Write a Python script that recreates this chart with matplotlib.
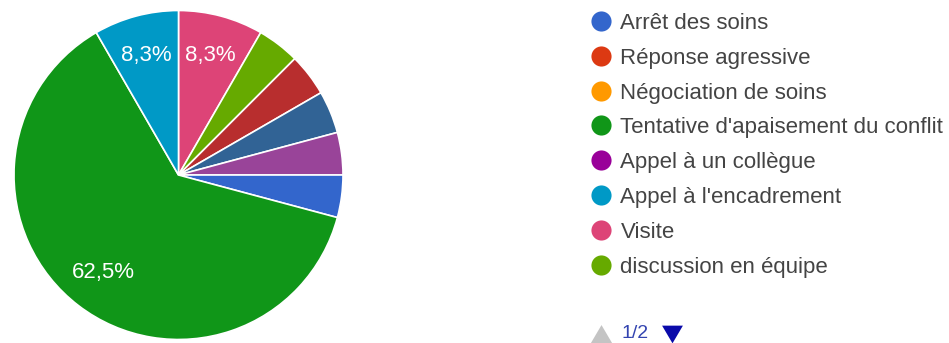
import matplotlib.pyplot as plt

plt.rcParams['font.family'] = ['Liberation Sans', 'DejaVu Sans']

# legend entries (page 1 of 2) and their colours
legend_labels = ['Arrêt des soins', 'Réponse agressive', 'Négociation de soins',
                 "Tentative d'apaisement du conflit", 'Appel à un collègue',
                 "Appel à l'encadrement", 'Visite', 'discussion en équipe']
legend_colors = ['#3366cc', '#dc3912', '#ff9900', '#109618',
                 '#990099', '#0099c6', '#dd4477', '#66aa00']

# pie slices, clockwise from 12 o'clock (counts out of 24 answers)
slice_counts = [2, 1, 1, 1, 1, 1, 15, 2]
slice_colors = ['#dd4477', '#66aa00', '#b82e2e', '#316395',
                '#994499', '#3366cc', '#109618', '#0099c6']

W, H = 949, 343
fig = plt.figure(figsize=(W / 100, H / 100), dpi=100)

# pie: centre at (178.5, 175) px, radius 164.5 px
cx, cy, r = 178.5, 175, 164.5
ax = fig.add_axes([(cx - r) / W, (H - cy - r) / H, 2 * r / W, 2 * r / H])


def pct_label(p):
    return f'{p:.1f}%'.replace('.', ',') if p > 5 else ''


wedges, texts, autotexts = ax.pie(
    slice_counts, colors=slice_colors, startangle=90, counterclock=False,
    autopct=pct_label, pctdistance=0.75,
    wedgeprops=dict(edgecolor='white', linewidth=1.2),
    textprops=dict(color='white', fontsize=16))
ax.set_xlim(-1, 1)
ax.set_ylim(-1, 1)
ax.set_aspect('equal')
ax.axis('off')

# legend drawn in pixel coordinates on an overlay axes
lax = fig.add_axes([0, 0, 1, 1])
lax.set_xlim(0, W)
lax.set_ylim(H, 0)
lax.axis('off')

y0, dy = 20.7, 34.9
for i, (lab, col) in enumerate(zip(legend_labels, legend_colors)):
    y = y0 + i * dy
    lax.plot(600.7, y, 'o', markersize=14.5, color=col, markeredgewidth=0)
    lax.text(620.5, y, lab, fontsize=16, color='#444444',
             va='center_baseline', ha='left')

# pagination arrows and page counter
tri_up = [(-1, -0.85), (1, -0.85), (0, 0.85)]
tri_down = [(-1, 0.85), (1, 0.85), (0, -0.85)]
lax.plot(601, 334, marker=tri_up, markersize=16, color='#c4c4c4',
         markeredgewidth=0)
lax.text(622, 333, '1/2', fontsize=14, color='#3344b0',
         va='center', ha='left')
lax.plot(672, 334, marker=tri_down, markersize=15, color='#0a0aaa',
         markeredgewidth=0)

fig.savefig('out.png', dpi=100)
